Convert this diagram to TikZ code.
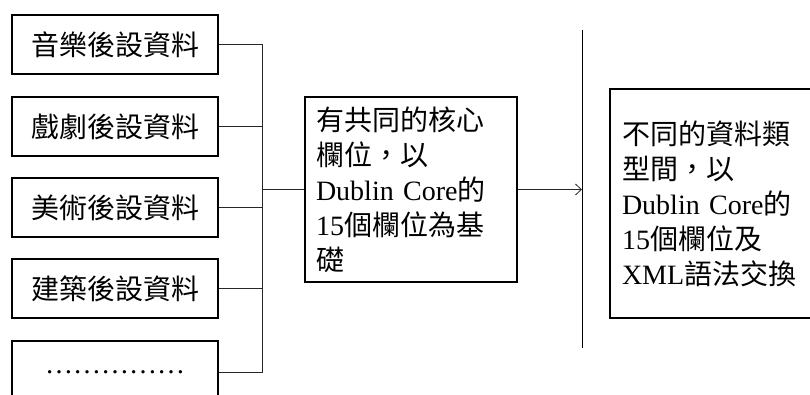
\documentclass[tikz,border=0pt]{standalone}
\usepackage{fontspec}
\setmainfont{Liberation Serif}
\newfontfamily\cjk{Noto Sans CJK TC}
\usetikzlibrary{arrows.meta}
\newcommand\zh[1]{{\cjk #1}}
\begin{document}
\begin{tikzpicture}[x=1pt,y=-1pt,
  box/.style={draw, line width=1.6pt, inner sep=0pt, font=\fontsize{28}{35}\selectfont},
  srcbox/.style={box, minimum width=206pt, minimum height=59pt},
  conn/.style={line width=0.8pt, draw=black!85},
  arrowline/.style={conn, -{Straight Barb[length=6pt,width=11pt]}}]
\useasboundingbox (0,0) rectangle (810,394);
% left boxes
\node[srcbox] (b1) at (115,44.5) {\zh{音樂後設資料}};
\node[srcbox] (b2) at (115,126.5) {\zh{戲劇後設資料}};
\node[srcbox] (b3) at (115,207.5) {\zh{美術後設資料}};
\node[srcbox] (b4) at (115,288.5) {\zh{建築後設資料}};
\node[box, minimum width=206pt, minimum height=62pt] (b5) at (115,372) {……………};
% middle box
\node[box, minimum width=212pt, minimum height=185pt, text width=190pt, align=left] (mid) at (411,189.5)
  {\zh{有共同的核心}\\\zh{欄位，以}\\Dublin Core\zh{的}\\15\zh{個欄位為基}\\\zh{礎}};
% right box
\node[box, minimum width=220pt, minimum height=229pt, text width=196pt, align=left] (right) at (720,203.5)
  {\zh{不同的資料類}\\\zh{型間，以}\\Dublin Core\zh{的}\\15\zh{個欄位及}\\XML\zh{語法交換}};
% connectors
\coordinate (jn) at (262,189.5);
\foreach \b in {b1,b2,b3,b4,b5} \draw[conn] (\b.east) -| (jn);
\draw[conn] (jn) -- (mid.west);
% separator
\coordinate (septop) at (582,30);
\coordinate (sepbot) at (582,348);
\draw[line width=0.9pt] (septop) -- (sepbot);
\draw[arrowline] (mid.east) -- (mid.east -| septop);
\end{tikzpicture}
\end{document}
